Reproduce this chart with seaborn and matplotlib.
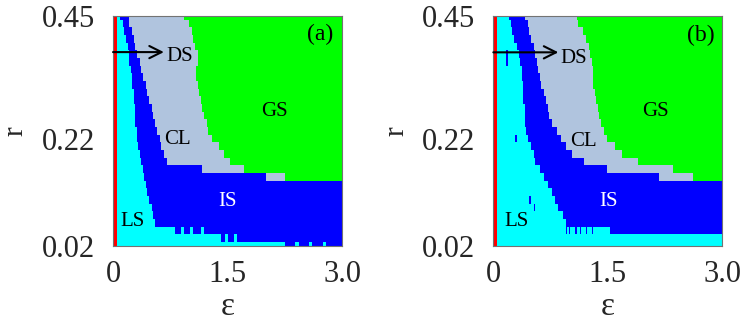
import numpy as np
import pandas as pd
import matplotlib
matplotlib.use("Agg")
import matplotlib.pyplot as plt
from matplotlib.colors import ListedColormap
import seaborn as sns

# ---------------- grid of the phase diagrams ----------------
r_top, r_bottom, n_rows = 0.45, 0.02, 31
eps_max, eps_step = 3.0, 0.02
red_edge = 0.045

phase_names = ["ε=0", "LS", "IS", "CL", "GS"]
phase_colors = ["#ff0000", "#00ffff", "#0000ff", "#b0c4de", "#00ff00"]

eps_ticks = [0.0, 1.5, 3.0]
eps_tick_labels = ["0", "1.5", "3.0"]
r_ticks = [0.45, 0.22, 0.02]
r_tick_labels = ["0.45", "0.22", "0.02"]

# ---------------- panel (a): phase boundaries per r row (top -> bottom) ----------------
ls_end_a = [0.08, 0.12, 0.15, 0.17, 0.19, 0.20, 0.21, 0.23, 0.24, 0.25,
            0.26, 0.27, 0.28, 0.29, 0.29, 0.30, 0.31, 0.33, 0.35, 0.37,
            0.38, 0.40, 0.42, 0.445, 0.467, 0.51, 0.53, 0.55, 0.81, 1.40,
            2.25]
is_end_a = [0.20, 0.21, 0.24, 0.26, 0.29, 0.31, 0.34, 0.36, 0.39, 0.42,
            0.445, 0.467, 0.50, 0.52, 0.546, 0.568, 0.60, 0.633, 0.66, 0.71,
            1.17, 2.00, 3.0, 3.0, 3.0, 3.0, 3.0, 3.0, 3.0, 3.0,
            3.0]
cl_end_a = [0.93, 0.98, 1.02, 1.05, 1.07, 1.10, 1.10, 1.08, 1.08, 1.10,
            1.12, 1.145, 1.175, 1.19, 1.22, 1.25, 1.29, 1.38, 1.44, 1.52,
            1.71, 2.24, 3.0, 3.0, 3.0, 3.0, 3.0, 3.0, 3.0, 3.0,
            3.0]
speck_a_row = [28, 28, 28, 29, 29, 30, 30, 30]
speck_a_start = [0.90, 1.02, 1.16, 1.48, 1.60, 2.40, 2.58, 2.76]
speck_a_end = [0.93, 1.05, 1.19, 1.51, 1.63, 2.43, 2.61, 2.79]
speck_a_phase = ["LS", "LS", "LS", "LS", "LS", "LS", "LS", "LS"]

# ---------------- panel (b) ----------------
ls_end_b = [0.21, 0.23, 0.25, 0.27, 0.30, 0.33, 0.34, 0.36, 0.37, 0.38,
            0.39, 0.39, 0.40, 0.40, 0.40, 0.43, 0.45, 0.48, 0.52, 0.55,
            0.61, 0.66, 0.71, 0.76, 0.81, 0.85, 0.90, 0.94, 1.53, 3.0,
            3.0]
is_end_b = [0.415, 0.44, 0.47, 0.49, 0.52, 0.54, 0.56, 0.59, 0.61, 0.635,
            0.66, 0.68, 0.70, 0.73, 0.77, 0.82, 0.88, 0.95, 1.03, 1.18,
            1.49, 2.16, 3.0, 3.0, 3.0, 3.0, 3.0, 3.0, 3.0, 3.0,
            3.0]
cl_end_b = [1.08, 1.11, 1.16, 1.20, 1.245, 1.27, 1.29, 1.30, 1.31, 1.31,
            1.32, 1.345, 1.375, 1.38, 1.40, 1.44, 1.49, 1.59, 1.68, 1.89,
            2.35, 2.61, 3.0, 3.0, 3.0, 3.0, 3.0, 3.0, 3.0, 3.0,
            3.0]
speck_b_row = [5, 6, 16, 24, 25, 28, 28, 28, 28, 28, 28]
speck_b_start = [0.17, 0.17, 0.30, 0.48, 0.53, 0.95, 1.00, 1.07, 1.13, 1.22, 1.29]
speck_b_end = [0.19, 0.19, 0.32, 0.50, 0.55, 0.98, 1.02, 1.10, 1.15, 1.24, 1.31]
speck_b_phase = ["IS", "IS", "IS", "IS", "IS", "IS", "IS", "IS", "IS", "IS", "IS"]

# region labels (axes-fraction positions)
labels_a = {"(a)": (0.905, 0.92), "DS": (0.29, 0.822), "GS": (0.703, 0.585),
            "CL": (0.282, 0.461), "IS": (0.502, 0.193), "LS": (0.085, 0.107)}
labels_b = {"(b)": (0.907, 0.917), "DS": (0.352, 0.815), "GS": (0.706, 0.585),
            "CL": (0.393, 0.454), "IS": (0.505, 0.193), "LS": (0.102, 0.107)}
arrow_a = (0.0, 0.222, 0.843)
arrow_b = (0.0, 0.284, 0.842)


def build_grid(ls_end, is_end, cl_end, sp_row, sp_start, sp_end, sp_phase):
    eps = np.round(np.arange(0.0, eps_max + eps_step / 2, eps_step), 3)
    r = np.round(np.linspace(r_top, r_bottom, n_rows), 4)
    grid = np.full((n_rows, eps.size), phase_names.index("GS"))
    for j in range(n_rows):
        grid[j, eps <= cl_end[j]] = phase_names.index("CL")
        grid[j, eps <= is_end[j]] = phase_names.index("IS")
        grid[j, eps <= ls_end[j]] = phase_names.index("LS")
        grid[j, eps < red_edge] = 0
    for row, s, e, ph in zip(sp_row, sp_start, sp_end, sp_phase):
        grid[row, (eps >= s) & (eps < e)] = phase_names.index(ph)
    return pd.DataFrame(grid, index=r, columns=eps)


sns.set_style("white")
plt.rcParams["font.family"] = ["Liberation Serif", "DejaVu Serif"]

fig = plt.figure(figsize=(7.47, 3.23), dpi=100)
ax_a = fig.add_axes([0.1513, 0.2384, 0.3066, 0.7121])
ax_b = fig.add_axes([0.6604, 0.2384, 0.3066, 0.7121])

cmap = ListedColormap(phase_colors)

panels = [
    (ax_a, build_grid(ls_end_a, is_end_a, cl_end_a, speck_a_row, speck_a_start, speck_a_end, speck_a_phase), labels_a, arrow_a),
    (ax_b, build_grid(ls_end_b, is_end_b, cl_end_b, speck_b_row, speck_b_start, speck_b_end, speck_b_phase), labels_b, arrow_b),
]

tick_fs = 22
for ax, df, labs, arr in panels:
    sns.heatmap(df, ax=ax, cmap=cmap, vmin=-0.5, vmax=len(phase_names) - 0.5,
                cbar=False, xticklabels=False, yticklabels=False)
    ncol = df.shape[1]
    ax.set_xlim(0.5, ncol - 0.5)
    ax.set_ylim(n_rows - 0.5, 0.5)
    ax.set_xticks([0.5 + v / eps_step for v in eps_ticks])
    ax.set_xticklabels(eps_tick_labels, fontsize=tick_fs)
    ax.set_yticks([0.5 + (r_top - v) / (r_top - r_bottom) * (n_rows - 1) for v in r_ticks])
    ax.set_yticklabels(r_tick_labels, fontsize=tick_fs, rotation=0)
    ax.tick_params(axis="x", length=0, pad=10)
    ax.tick_params(axis="y", length=0, pad=13)
    ax.set_xlabel("ε", fontsize=24)
    ax.set_ylabel("r", fontsize=21)
    ax.xaxis.set_label_coords(0.5, -0.20)
    ax.yaxis.set_label_coords(-0.368, 0.5)
    for sp in ax.spines.values():
        sp.set_visible(True)
        sp.set_color("0.45")
        sp.set_linewidth(0.8)
    for txt, (x, y) in labs.items():
        ax.text(x, y, txt, transform=ax.transAxes, ha="center", va="center",
                fontsize=17 if txt.startswith("(") else 15,
                color="white" if txt == "IS" else "black")
    x0, x1, y = arr
    ax.annotate("", xy=(x1, y), xytext=(x0, y), xycoords="axes fraction",
                textcoords="axes fraction",
                arrowprops=dict(arrowstyle="->", lw=1.5, color="black",
                                mutation_scale=22, shrinkA=0, shrinkB=0))

fig.savefig("out.png", dpi=100)
